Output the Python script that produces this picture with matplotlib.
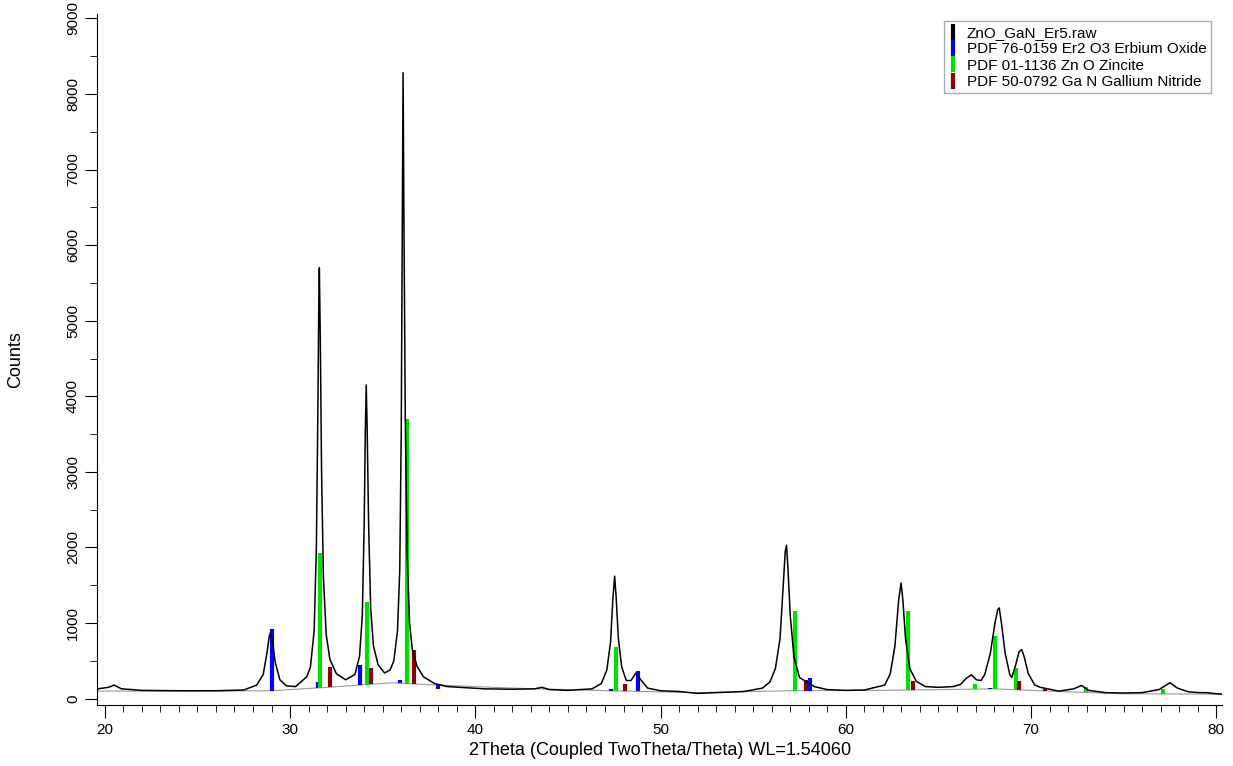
import matplotlib.pyplot as plt
import numpy as np
from matplotlib.lines import Line2D

plt.rcParams['font.family'] = ['Liberation Sans', 'DejaVu Sans']

trace_x = [19.6, 20.2, 20.5, 20.9, 22, 24, 26, 27.5,
           28.2, 28.55, 28.75, 28.88, 28.94, 29.05, 29.2, 29.45, 29.8, 30.3,
           30.9, 31.1, 31.3, 31.42, 31.5, 31.55, 31.58, 31.63, 31.7, 31.8, 31.95, 32.15, 32.5, 33.0,
           33.5, 33.75, 33.9, 34.0, 34.06, 34.11, 34.16, 34.24, 34.35, 34.5, 34.75, 35.1,
           35.4, 35.6, 35.8, 35.92, 36.0, 36.05, 36.1, 36.15, 36.22, 36.32, 36.45, 36.6, 36.85, 37.2,
           37.8, 38.5, 39.5, 40.5, 42, 43.2, 43.6, 44.0, 45, 46.3,
           46.8, 47.1, 47.3, 47.42, 47.52, 47.6, 47.72, 47.9, 48.15, 48.4, 48.67, 48.9, 49.3,
           50, 51, 52, 53, 54.5, 55.5,
           55.9, 56.2, 56.45, 56.62, 56.73, 56.8, 56.88, 57.0, 57.2, 57.5, 57.9, 58.3,
           59, 60, 61, 62.1, 62.4, 62.65, 62.85, 62.98, 63.08, 63.22, 63.45, 63.8, 64.3,
           65.0, 65.8, 66.2, 66.5, 66.78, 67.05, 67.3,
           67.5, 67.8, 68.05, 68.2, 68.28, 68.4, 68.6, 68.85, 68.96, 69.15, 69.35, 69.49, 69.62, 69.85,
           70.2, 70.5, 71.5, 72.3, 72.72, 73.1, 74, 75, 76, 76.9, 77.49, 77.9, 78.5, 79.1, 79.47,
           79.8, 80.3]
trace_y = [130, 150, 180, 130, 110, 105, 105, 115,
           180, 320, 600, 830, 870, 760, 480, 250, 170, 160,
           290, 420, 900, 2000, 3800, 5200, 5700, 4800, 3000, 1600, 850, 520, 330, 250,
           320, 560, 1100, 2300, 3500, 4150, 3600, 2300, 1200, 700, 450, 340,
           380, 500, 900, 1700, 3500, 6000, 8280, 6200, 3700, 1900, 1000, 650, 430, 290,
           200, 160, 145, 130, 125, 130, 150, 120, 110, 130,
           200, 380, 750, 1300, 1620, 1350, 800, 420, 240, 240, 340, 260, 140,
           105, 95, 70, 80, 95, 140,
           220, 400, 800, 1500, 1950, 2030, 1700, 1100, 550, 280, 220, 160,
           120, 110, 115, 180, 330, 700, 1300, 1530, 1300, 800, 400, 230, 160,
           150, 160, 190, 270, 315, 250, 240,
           320, 600, 1000, 1180, 1200, 1000, 600, 320, 280, 430, 620, 650, 560, 330,
           180, 150, 100, 130, 175, 110, 80, 75, 80, 120, 210, 140, 90, 80, 80,
           70, 60]

# fitted background (thin grey line)
bg_x = [19.6, 25, 29, 32, 35.5, 38, 42, 48, 52, 57, 62, 68, 72, 75, 80.3]
bg_y = [100, 100, 105, 150, 210, 180, 140, 100, 80, 105, 110, 130, 90, 65, 60]

# reference patterns: positions and tops
er2o3_x = [29.05, 31.5, 33.8, 35.94, 38.0, 48.8, 58.07, 47.3, 61.0, 62.6, 67.8]
er2o3_y = [920, 220, 440, 250, 130, 360, 280, 130, 120, 120, 140]
zno_x = [31.63, 34.15, 36.32, 47.57, 57.24, 63.35, 66.99, 68.07, 69.2, 72.97, 77.13]
zno_y = [1930, 1280, 3700, 680, 1160, 1160, 200, 830, 410, 150, 130]
gan_x = [32.17, 34.36, 36.68, 48.06, 57.87, 63.62, 69.33, 70.77]
gan_y = [420, 410, 650, 200, 250, 240, 240, 130]

fig = plt.figure(figsize=(12.33, 7.66), dpi=100)
ax = fig.add_axes([0.079, 0.079, 0.912, 0.903])

for xs, ys, c in [(er2o3_x, er2o3_y, '#0000ff'), (zno_x, zno_y, '#00e000'), (gan_x, gan_y, '#8b0000')]:
    base = np.interp(xs, bg_x, bg_y)
    ax.vlines(xs, base, ys, color=c, linewidth=3, zorder=2)

ax.plot(bg_x, bg_y, color='#999999', linewidth=0.8, zorder=1)
ax.plot(trace_x, trace_y, color='black', linewidth=1.1, zorder=3)

ax.set_xlim(19.6, 80.3)
ax.set_ylim(-90, 9060)
ax.set_xticks(range(20, 81, 10))
ax.set_xticks(range(20, 81, 1), minor=True)
ax.set_yticks(range(0, 9001, 1000))
ax.set_yticks(range(0, 9001, 500), minor=True)
ax.tick_params(axis='both', direction='out', length=9, labelsize=11)
ax.tick_params(axis='both', which='minor', direction='out', length=5)
for lab in ax.get_yticklabels():
    lab.set_rotation(90)
    lab.set_va('center')
for s in ['top', 'right']:
    ax.spines[s].set_visible(False)

ax.set_xlabel('2Theta (Coupled TwoTheta/Theta) WL=1.54060', fontsize=13)
ax.set_ylabel('Counts', fontsize=13, labelpad=30)

handles = [Line2D([], [], color=c, linestyle='none', marker='|', markersize=11, markeredgewidth=3)
           for c in ['black', '#0000ff', '#00e000', '#8b0000']]
labels = ['ZnO_GaN_Er5.raw', 'PDF 76-0159 Er2 O3 Erbium Oxide',
          'PDF 01-1136 Zn O Zincite', 'PDF 50-0792 Ga N Gallium Nitride']
ax.legend(handles, labels, loc='upper right', bbox_to_anchor=(0.997, 1.0), fontsize=11,
          fancybox=False, edgecolor='#8899aa', handlelength=0.6, handletextpad=0.6,
          borderpad=0.3, labelspacing=0.15)

plt.savefig('out.png', dpi=100)
